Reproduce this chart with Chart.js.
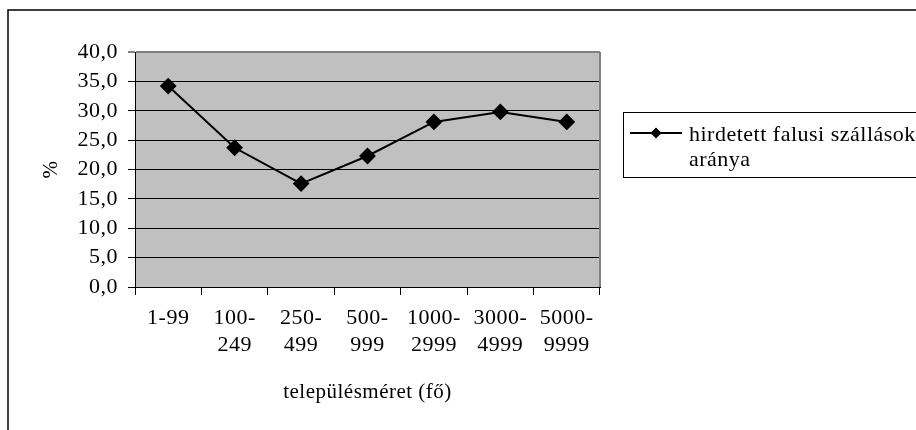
<!DOCTYPE html>
<html>
<head>
<meta charset="utf-8">
<script src="https://cdn.jsdelivr.net/npm/chart.js@4/dist/chart.umd.min.js"></script>
<style>
html,body{margin:0;padding:0;background:#fff;}
canvas{display:block;}
</style>
</head>
<body>
<canvas id="c" width="916" height="430"></canvas>
<script>
const categories = [['1-99'], ['100-', '249'], ['250-', '499'], ['500-', '999'], ['1000-', '2999'], ['3000-', '4999'], ['5000-', '9999']];
const seriesValues = [34.2, 23.7, 17.6, 22.3, 28.1, 29.8, 28.1];
const seriesLabel = 'hirdetett falusi szállások aránya';
const legendLines = ['hirdetett falusi szállások', 'aránya'];
const yTicks = [0, 5, 10, 15, 20, 25, 30, 35, 40];
const xTitle = 'településméret (fő)';
const yTitle = '%';

const FONT = '"Liberation Serif", "Times New Roman", serif';
const SPACING = '0.5px';

const spacingPlugin = {
  id: 'spacing',
  beforeUpdate(chart) { chart.ctx.letterSpacing = SPACING; },
  beforeDraw(chart) {
    const ctx = chart.ctx;
    ctx.letterSpacing = SPACING;
    const a = chart.chartArea;
    ctx.save();
    ctx.fillStyle = '#ffffff';
    ctx.fillRect(0, 0, chart.width, chart.height);
    ctx.fillStyle = '#C0C0C0';
    ctx.fillRect(a.left, a.top, a.right - a.left, a.bottom - a.top);
    ctx.strokeStyle = '#000';
    ctx.lineWidth = 1.5;
    ctx.strokeRect(8, 10, chart.width + 20, chart.height + 20);
    ctx.restore();
  },
  afterDraw(chart) {
    const ctx = chart.ctx;
    const a = chart.chartArea;
    ctx.save();
    ctx.strokeStyle = '#808080';
    ctx.lineWidth = 2;
    ctx.beginPath();
    ctx.moveTo(a.right, a.top);
    ctx.lineTo(a.right, a.bottom);
    ctx.stroke();
    const ds = chart.data.datasets[0];
    const bx = 623, by = 112, bh = 65;
    ctx.strokeStyle = '#000';
    ctx.lineWidth = 1;
    ctx.strokeRect(bx + 0.5, by + 0.5, 400, bh);
    const ly = 133;
    ctx.strokeStyle = ds.borderColor;
    ctx.lineWidth = 2;
    ctx.beginPath();
    ctx.moveTo(630, ly);
    ctx.lineTo(682, ly);
    ctx.stroke();
    ctx.fillStyle = ds.pointBackgroundColor;
    ctx.beginPath();
    const r = 5.5, cx = 656;
    ctx.moveTo(cx, ly - r);
    ctx.lineTo(cx + r, ly);
    ctx.lineTo(cx, ly + r);
    ctx.lineTo(cx - r, ly);
    ctx.closePath();
    ctx.fill();
    ctx.fillStyle = '#000';
    ctx.font = '22px ' + FONT;
    ctx.letterSpacing = SPACING;
    ctx.textBaseline = 'middle';
    ctx.textAlign = 'left';
    legendLines.forEach((t, i) => ctx.fillText(t, 689, ly + 2 + i * 25));
    ctx.restore();
  }
};

new Chart(document.getElementById('c'), {
  type: 'line',
  data: {
    labels: categories,
    datasets: [{
      label: seriesLabel,
      data: seriesValues,
      borderColor: '#000',
      backgroundColor: '#000',
      pointBackgroundColor: '#000',
      pointBorderColor: '#000',
      borderWidth: 2,
      pointStyle: 'rectRot',
      pointRadius: 7,
      pointHoverRadius: 7,
      tension: 0,
      fill: false
    }]
  },
  options: {
    responsive: false,
    animation: false,
    devicePixelRatio: 1,
    layout: { padding: { left: 36, top: 52, right: 316, bottom: 0 } },
    plugins: { legend: { display: false }, tooltip: { enabled: false } },
    scales: {
      x: {
        type: 'category',
        offset: true,
        afterFit(s) { s.height = 143; },
        grid: { offset: true, drawOnChartArea: false, drawTicks: true, tickLength: 8, color: '#000', lineWidth: 1 },
        border: { color: '#000', width: 1 },
        ticks: { color: '#000', maxRotation: 0, autoSkip: false, padding: 9, font: { family: FONT, size: 22, lineHeight: 1.25 } },
        title: { display: true, text: xTitle, color: '#000', font: { family: FONT, size: 21 }, padding: { top: 4, bottom: 25 } }
      },
      y: {
        min: 0, max: 40,
        afterFit(s) { s.width = 99; },
        afterBuildTicks(s) { s.ticks = yTicks.map(v => ({ value: v })); },
        grid: {
          color: (c) => (c.tick && c.tick.value === 40 ? '#808080' : '#000'),
          lineWidth: (c) => (c.tick && c.tick.value === 40 ? 2 : 1),
          tickLength: 7,
          drawTicks: true
        },
        border: { color: '#000', width: 1 },
        ticks: {
          color: '#000', padding: 10, autoSkip: false,
          font: { family: FONT, size: 22 },
          callback: (v) => Number(v).toFixed(1).replace('.', ',')
        },
        title: { display: true, text: yTitle, color: '#000', font: { family: FONT, size: 21 }, padding: { top: 3, bottom: 0 } }
      }
    }
  },
  plugins: [spacingPlugin]
});
</script>
</body>
</html>
